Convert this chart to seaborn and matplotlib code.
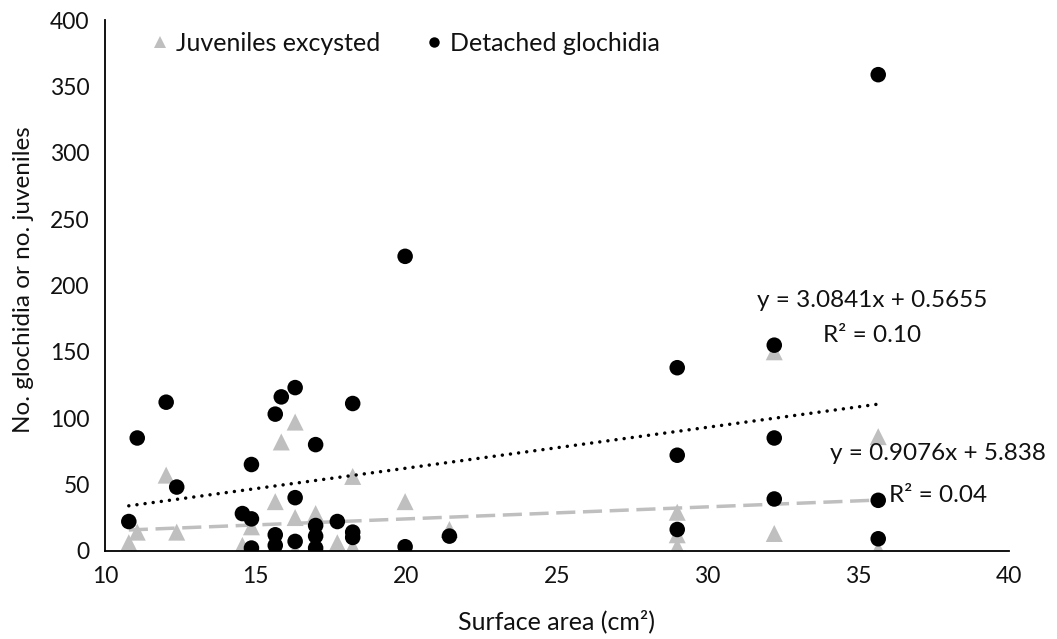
import matplotlib
matplotlib.use("Agg")
import matplotlib.pyplot as plt
from matplotlib.lines import Line2D
import numpy as np
import pandas as pd
import seaborn as sns

# ---- data ----
circ_x = [10.79, 11.07, 12.03, 12.38, 14.56, 14.86, 14.86, 14.86, 15.65, 15.65, 15.65, 15.85,
          16.31, 16.31, 16.31, 16.99, 16.99, 16.99, 16.99, 17.71, 18.22, 18.22, 18.22,
          19.96, 19.96, 21.43, 28.99, 28.99, 28.99, 32.21, 32.21, 32.21, 35.66, 35.66, 35.66]
circ_y = [22, 85, 112, 48, 28, 65, 24, 2, 103, 12, 4, 116,
          123, 40, 7, 80, 19, 11, 2, 22, 111, 14, 10,
          222, 3, 11, 138, 72, 16, 155, 85, 39, 359, 38, 9]

tri_x = [10.79, 11.07, 12.03, 12.38, 14.56, 14.86, 14.86, 15.65, 15.65, 15.85,
         16.31, 16.31, 16.31, 16.99, 16.99, 17.71, 18.22, 18.22, 18.22,
         19.96, 19.96, 21.43, 28.99, 28.99, 28.99, 32.21, 32.21, 35.66, 35.66]
tri_y = [6, 14, 57, 14, 4, 18, 0, 37, 0, 82,
         97, 25, 0, 28, 0, 6, 56, 3, 0,
         37, 0, 16, 29, 12, 3, 150, 13, 86, 1]

series_names = ["Juveniles excysted", "Detached glochidia"]
fit_slope = [0.9076, 3.0841]
fit_intercept = [5.838, 0.5655]
fit_r2 = ["0.04", "0.10"]
fit_intercept_txt = ["5.838", "0.5655"]

x_ticks = [10, 15, 20, 25, 30, 35, 40]
y_ticks = [0, 50, 100, 150, 200, 250, 300, 350, 400]

GRAY = "#BFBFBF"
BLACK = "#000000"
TXT = "#111111"

sns.set_style("white")
plt.rcParams["font.family"] = ["Lato", "DejaVu Sans"]

W, H = 1057, 639
fig = plt.figure(figsize=(W / 100, H / 100), dpi=100)
ax = fig.add_axes([105 / W, (H - 550.7) / H, 904 / W, 530.4 / H])

df_tri = pd.DataFrame({"x": tri_x, "y": tri_y})
df_circ = pd.DataFrame({"x": circ_x, "y": circ_y})

sns.scatterplot(data=df_tri, x="x", y="y", marker="^", s=150, color=GRAY,
                edgecolor="none", linewidth=0, ax=ax, zorder=2, legend=False)

# trend lines
xs_all = np.array(circ_x + tri_x)
x_fit = np.array([xs_all.min(), xs_all.max()])
df_fit_j = pd.DataFrame({"x": x_fit, "y": fit_slope[0] * x_fit + fit_intercept[0]})
df_fit_g = pd.DataFrame({"x": x_fit, "y": fit_slope[1] * x_fit + fit_intercept[1]})
sns.lineplot(data=df_fit_j, x="x", y="y", color=GRAY, lw=2.5, ax=ax, zorder=3,
             legend=False)
ax.lines[-1].set_dashes([5.5, 2.2])
ax.lines[-1].set_dash_capstyle("butt")
sns.lineplot(data=df_fit_g, x="x", y="y", color=BLACK, lw=2.5, ax=ax, zorder=3,
             legend=False)
ax.lines[-1].set_linestyle((0, (0.01, 2.35)))
ax.lines[-1].set_dash_capstyle("round")

sns.scatterplot(data=df_circ, x="x", y="y", marker="o", s=125, color=BLACK,
                edgecolor="none", linewidth=0, ax=ax, zorder=4, legend=False)

ax.set_xlim(10, 40)
ax.set_ylim(0, 400)
ax.set_xticks(x_ticks)
ax.set_yticks(y_ticks)
ax.tick_params(axis="both", direction="out", length=5, width=1.2, color=BLACK,
               labelsize=16.5, labelcolor=TXT, pad=6)
for side in ["top", "right"]:
    ax.spines[side].set_visible(False)
for side in ["left", "bottom"]:
    ax.spines[side].set_color(BLACK)
    ax.spines[side].set_linewidth(1.3)

ax.set_xlabel("Surface area (cm²)", fontsize=18, color=TXT)
ax.set_ylabel("No. glochidia or no. juveniles", fontsize=17.5, color=TXT)
ax.xaxis.set_label_coords(0.5, -0.134)
ax.xaxis.label.set_va("center")
ax.yaxis.set_label_coords(-0.0907, 0.512)
ax.yaxis.label.set_va("center")

# equations
eq_fs = 17.5
ax.text(35.47, 189, f"y = {fit_slope[1]}x + {fit_intercept_txt[1]}", ha="center", va="center",
        fontsize=eq_fs, color=TXT)
ax.text(35.47, 162.6, f"R² = {fit_r2[1]}", ha="center", va="center",
        fontsize=eq_fs, color=TXT)
ax.text(37.65, 73.6, f"y = {fit_slope[0]}x + {fit_intercept_txt[0]}", ha="center", va="center",
        fontsize=eq_fs, color=TXT)
ax.text(37.65, 42, f"R² = {fit_r2[0]}", ha="center", va="center",
        fontsize=eq_fs, color=TXT)

handles = [
    Line2D([], [], marker="^", color=GRAY, markersize=8, linestyle="none", markeredgewidth=0),
    Line2D([], [], marker="o", color=BLACK, markersize=7.5, linestyle="none", markeredgewidth=0),
]
leg = ax.legend(handles, series_names, loc="center left", ncol=2, frameon=False,
                bbox_to_anchor=((150 - 105) / 904, (550.7 - 43.3) / 530.4),
                fontsize=18, handlelength=0.8, handletextpad=0.25, columnspacing=1.75,
                borderaxespad=0, borderpad=0)
for t in leg.get_texts():
    t.set_color(TXT)

fig.savefig("out.png", dpi=100)
